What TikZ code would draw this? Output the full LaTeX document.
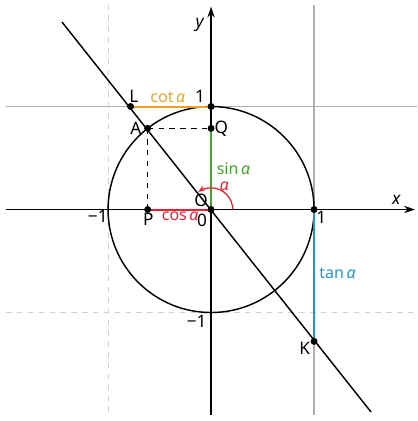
\documentclass[tikz,border=0pt]{standalone}
\usepackage{fontspec}
\setmainfont{Noto Sans}
\usetikzlibrary{arrows.meta}
\definecolor{cotcol}{RGB}{238,162,40}
\definecolor{sincol}{RGB}{70,160,50}
\definecolor{coscol}{RGB}{232,32,48}
\definecolor{tancol}{RGB}{30,150,210}
\definecolor{gridcol}{RGB}{175,175,175}

\begin{document}
\begin{tikzpicture}[x=2cm,y=2cm,font=\fontsize{8.8}{10}\selectfont,
    dot/.style={draw=black, fill=black, circle, inner sep=1.2pt},
    lbl/.style={inner sep=1pt},
    big/.style={font=\fontsize{9.5}{11}\selectfont},
    axis/.style={line width=0.8pt, -{Stealth[length=6pt,width=4pt]}},
    seg/.style={line width=1.1pt}]
      \useasboundingbox (-2.049,-2.053) rectangle (2.0,2.034);
      % helper lines
      \draw[gridcol, line width=0.8pt] (-1.99,1) -- (2.0,1);
      \draw[gridcol, line width=0.8pt] (1,1.99) -- (1,-1.99);
      \draw[gridcol!60, line width=0.6pt, dashed] (-1,1.99) -- (-1,-1.99);
      \draw[gridcol!60, line width=0.6pt, dashed] (-1.99,-1) -- (1.99,-1);
      %
      \coordinate (O) at (0,0);
      \coordinate (T) at (0,1);
      \coordinate (E) at (1,0);
      \coordinate (A) at (128:1);
      \coordinate (P) at ({cos(128)},0);
      \coordinate (Q) at (0,{sin(128)});
      \coordinate (L) at ({cot(128)},1);
      \coordinate (K) at (1,{tan(128)});
      \coordinate (S) at (-1.447,1.82);
      \coordinate (F) at (1.553,-1.966);
      %
      \draw[axis] (-1.99,0) -- (1.98,0);
      \draw[axis] (0,-1.995) -- (0,1.97);
      \draw[line width=0.8pt] (O) circle (1);
      \draw[line width=0.8pt] (S) -- (F);
      %
      \draw[dashed, line width=0.8pt] (A) -- (P);
      \draw[dashed, line width=0.8pt] (A) -- (Q);
      \draw[seg, cotcol] (L) -- (T);
      \draw[seg, sincol] (O) -- (Q);
      \draw[seg, coscol] (P) -- (O);
      \draw[seg, tancol] (E) -- (K);
      \draw[coscol, line width=0.7pt, -{Stealth[length=4pt,width=3pt]}] (0.21,0) arc (0:126:0.21);
      %
      \node[dot] (nO) at (O) {};
      \node[dot] (nT) at (T) {};
      \node[dot] (nE) at (E) {};
      \node[dot] (nA) at (A) {};
      \node[dot] (nP) at (P) {};
      \node[dot] (nQ) at (Q) {};
      \node[dot] (nL) at (L) {};
      \node[dot] (nK) at (K) {};
      %
      \node[lbl, big] at (-0.107,1.79) {\textit{y}};
      \node[lbl, big] at (1.80,0.09) {\textit{x}};
      \node[lbl, big] at (-0.107,1.10) {1};
      \node[lbl, big] at (-0.75,1.10) {L};
      \node[lbl, cotcol] at (-0.42,1.09) {cot\,\textit{α}};
      \node[lbl, big] at (-0.73,0.79) {A};
      \node[lbl, big] at (0.10,0.78) {Q};
      \node[lbl, sincol, anchor=west] at (0.035,0.40) {sin\,\textit{α}};
      \node[lbl, big] at (-0.097,0.09) {O};
      \node[lbl, coscol] at (0.13,0.23) {\textit{α}};
      \node[lbl, big] at (-0.087,-0.11) {0};
      \node[lbl, big] at (-0.61,-0.10) {P};
      \node[lbl, coscol] at (-0.30,-0.063) {cos\,\textit{α}};
      \node[lbl, big] at (-1.10,-0.07) {−1};
      \node[lbl, big] at (1.07,-0.08) {1};
      \node[lbl, tancol, anchor=west] at (1.03,-0.62) {tan\,\textit{α}};
      \node[lbl, big] at (-0.14,-1.09) {−1};
      \node[lbl, big] at (0.91,-1.35) {K};
    \end{tikzpicture}
\end{document}
